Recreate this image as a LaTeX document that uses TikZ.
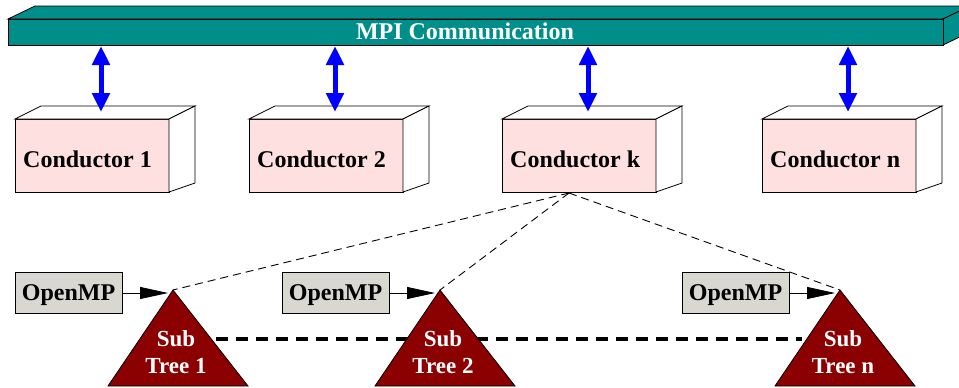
\documentclass[tikz,border=0pt]{standalone}
\usepackage{fontspec}
\setmainfont{Liberation Serif}
\usetikzlibrary{arrows.meta}
\definecolor{mpiteal}{HTML}{008E8A}
\definecolor{condpink}{HTML}{FFE0E0}
\definecolor{ompgray}{HTML}{D8D8D0}
\definecolor{treered}{HTML}{8B0000}
\tikzset{
  outline/.style={draw=black, line width=0.8pt, line join=miter},
  bigtext/.style={font=\bfseries\fontsize{24}{27}\selectfont, inner sep=0pt},
  bartext/.style={bigtext, text=white},
  condtext/.style={bigtext, text=black},
  treetext/.style={font=\bfseries\fontsize{23}{27}\selectfont, inner sep=0pt, text=white},
  ompbox/.style={outline, fill=ompgray, font=\bfseries\fontsize{24}{27}\selectfont,
    minimum width=107pt, minimum height=41pt, inner sep=0pt, text height=16pt, text depth=0pt},
  mpiarrow/.style={blue, line width=5pt,
    {Triangle[length=19pt,width=17pt]}-{Triangle[length=19pt,width=17pt]}},
  omparrow/.style={black, line width=0.8pt, -{Triangle[length=28pt,width=12pt]}},
  thindash/.style={black, line width=0.9pt, dash pattern=on 8pt off 5pt},
  thickdash/.style={black, line width=4pt, dash pattern=on 12pt off 8pt},
  treeshape/.style={outline, fill=treered}
}
\begin{document}
\begin{tikzpicture}[x=1pt,y=-1pt]
\clip (0,0) rectangle (959,388);
\fill[white] (0,0) rectangle (959,388);
% MPI bar
\filldraw[outline, fill=mpiteal] (8,19) -- (35,6) -- (970,6) -- (943,19) -- cycle;
\filldraw[outline, fill=mpiteal] (943,19) -- (970,6) -- (970,32) -- (943,45) -- cycle;
\filldraw[outline, fill=mpiteal] (8,19) rectangle (943,45);
\node[bartext, anchor=base] (mpi) at (465,39) {MPI Communication};
% Conductors
\foreach \x/\lab/\nm in {15/1/c1, 249/2/c2, 502/k/ck, 762/n/cn}{
  \filldraw[outline, fill=condpink] (\x,119) rectangle ++(154,73);
  \filldraw[outline, fill=white] (\x,119) -- ++(26,-13) -- ++(154,0) -- ++(-26,13) -- cycle;
  \filldraw[outline, fill=white] (\x+154,119) -- ++(26,-13) -- ++(0,77) -- ++(-26,9) -- cycle;
  \node[condtext, anchor=base west] (\nm) at (\x+8,167) {Conductor \lab};
  \coordinate (\nm-top) at (\x+86,112);
  \coordinate (\nm-bar) at (\x+86,46);
  \draw[mpiarrow] (\nm-bar) -- (\nm-top);
}
\coordinate (ck-bot) at (569,193);
% thick dashed link between subtrees
\coordinate (t1-right) at (216,339);
\coordinate (tn-left) at (802,339);
\draw[thickdash] (t1-right) -- (tn-left);
% OpenMP boxes
\foreach \b/\a/\nm in {15/173/o1, 282/440/o2, 682/840/o3}{
  \node[ompbox] (\nm) at (\b+53.5,292.5) {OpenMP};
  \coordinate (\nm-tip) at (\a-5,293);
  \draw[omparrow] (\nm.east |- \nm-tip) -- (\nm-tip);
}
% Subtrees
\foreach \a/\lab/\nm in {173/1/t1, 440/2/t2, 840/n/tn}{
  \filldraw[treeshape] (\a,290) -- (\a+75,386) -- (\a-65,386) -- cycle;
  \coordinate (\nm-apex) at (\a,290);
  \node[treetext, anchor=base] (\nm-sub) at (\a+3,346) {Sub};
  \node[treetext, anchor=base] (\nm-lab) at (\a+3,373) {Tree \lab};
}
% dashed lines from conductor k
\draw[thindash] (ck-bot) -- (t1-apex);
\draw[thindash] (ck-bot) -- (t2-apex);
\draw[thindash] (ck-bot) -- (tn-apex);
\end{tikzpicture}
\end{document}
